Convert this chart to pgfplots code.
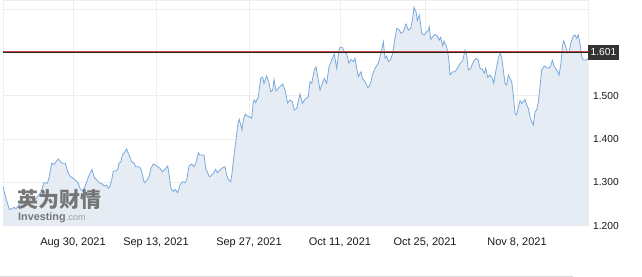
\documentclass[border=0pt]{standalone}
\usepackage{pgfplots}
\usepackage{pgfplotstable}
\pgfplotsset{compat=1.18}
\usepackage{fontspec}
\setmainfont{Liberation Sans}
\newfontfamily\cjk{Noto Sans CJK SC}
\definecolor{linec}{RGB}{122,170,220}
\definecolor{areac}{RGB}{229,236,243}
\definecolor{gridc}{RGB}{238,238,238}
\definecolor{boxc}{RGB}{51,51,51}
\definecolor{redl}{RGB}{200,70,60}
\definecolor{wm}{RGB}{105,105,105}

\pgfplotstableread{
t price
3 1.2893
6 1.2632
9.3 1.2378
11.7 1.2392
14 1.2424
16 1.2392
18.3 1.2454
20.7 1.2531
22.7 1.2501
25 1.2563
28.3 1.2577
31.7 1.2632
35 1.2593
37.3 1.2669
40.7 1.2762
44 1.2993
47.3 1.2979
49.3 1.3131
51.7 1.3441
54 1.3417
56 1.3478
58.3 1.3540
60 1.3494
62 1.3441
65.3 1.3441
68.3 1.3210
70.7 1.3131
73.3 1.3094
76 1.3039
78.3 1.2979
80 1.2863
82.7 1.2801
85 1.2900
87.3 1.3055
90 1.3210
92 1.3297
94 1.3131
96.7 1.3055
99.3 1.2993
102.3 1.2963
104.3 1.2916
106.7 1.2939
108.3 1.2863
110 1.2916
111.7 1.3055
113.3 1.3263
115.7 1.3263
117.7 1.3302
119 1.3441
121 1.3478
122.3 1.3632
124.3 1.3685
126.7 1.3771
128.3 1.3672
130 1.3579
131.7 1.3478
134.3 1.3441
135.7 1.3362
138.3 1.3362
140 1.3348
141.7 1.3247
144.3 1.2993
146.7 1.3039
149 1.3131
151 1.3325
153.3 1.3424
155.7 1.3401
157.7 1.3362
160 1.3325
162.3 1.3247
165 1.3302
167.7 1.3378
169 1.3193
171 1.2863
173.3 1.2785
175 1.2840
177.7 1.2762
180 1.2939
182.3 1.3016
185 1.2993
186.7 1.3055
189 1.3378
191.7 1.3424
194 1.3362
196 1.3454
198.3 1.3685
200 1.3632
204 1.3632
206 1.3286
207.3 1.3247
209.3 1.3131
210.7 1.3147
213.3 1.3210
215.7 1.3302
217.3 1.3224
220 1.3286
222.7 1.3339
225 1.3362
226.7 1.3170
228.3 1.3071
230.7 1.3016
232 1.3210
234 1.3632
236 1.3979
237.7 1.4325
239.3 1.4457
240.7 1.4325
242 1.4210
243.3 1.4441
245.3 1.4579
247.3 1.4533
249.3 1.4517
251.7 1.4480
253.3 1.4863
254.3 1.4903
255.7 1.4840
258.3 1.4979
260.7 1.5404
262.7 1.5427
264 1.5288
266.7 1.5457
268.7 1.5325
270.7 1.5094
272.7 1.5133
274 1.5381
276 1.5117
278.3 1.5173
280.7 1.5226
282.7 1.5272
285 1.5133
287.7 1.4833
290 1.4903
292.3 1.4863
294.3 1.4672
296.7 1.4711
300 1.5041
302.3 1.4826
305 1.4919
308.3 1.4979
310 1.5325
311.7 1.5288
314.3 1.5595
316 1.5672
318.3 1.5364
320 1.5133
321.7 1.5249
324.3 1.5404
326.7 1.5288
329 1.5672
331.7 1.5826
334.3 1.5965
336.7 1.5635
339 1.6057
340 1.6120
342.3 1.6120
344.3 1.6018
346.7 1.5965
349 1.5750
351 1.5842
353.3 1.5787
355 1.5866
356.7 1.5635
358.3 1.5441
361 1.5556
362.3 1.5404
365 1.5325
367.7 1.5196
369 1.5210
371 1.5325
372.3 1.5480
375 1.5635
378.3 1.5750
381 1.5981
383.3 1.6249
385 1.5866
386.7 1.5919
388.3 1.5787
390.7 1.5842
392.7 1.5981
395 1.6328
396.7 1.6558
399.3 1.6519
401 1.6443
403.3 1.6480
406 1.6658
408.3 1.6519
410.7 1.6558
412.7 1.6789
414 1.7043
416 1.6942
417.3 1.6734
419.3 1.6866
420.7 1.6635
421.7 1.6443
424 1.6404
426.7 1.6480
428.3 1.6503
429.3 1.6595
430.7 1.6304
432.7 1.6364
435 1.6420
437.3 1.6381
439.3 1.6288
440.7 1.6351
442.7 1.6150
444 1.6265
446 1.6173
447.7 1.6018
449 1.5787
450 1.5480
452.7 1.5556
455 1.5556
457.3 1.5635
460 1.5750
462.7 1.5810
465 1.6057
466.7 1.5942
468.3 1.5595
470.7 1.5635
473.3 1.5787
476 1.5866
478.3 1.5826
480 1.5635
482.3 1.5612
484.3 1.5519
485.7 1.5635
487.7 1.5427
490 1.5480
492.3 1.5404
493.7 1.5288
495.7 1.5556
498.3 1.5866
500 1.5981
501.7 1.5903
503.3 1.5595
505 1.5288
506.7 1.5249
508.3 1.5480
510 1.5404
511.7 1.5325
513.3 1.5018
515 1.4595
516.7 1.4556
518.3 1.4734
520 1.4886
521.7 1.4826
523.3 1.4863
525 1.4919
526.7 1.4787
528.3 1.4711
530 1.4517
531.7 1.4401
533.3 1.4325
535 1.4632
536.7 1.4672
538.3 1.4863
540 1.5210
541.7 1.5595
544.3 1.5688
546.7 1.5649
549 1.5635
551 1.5711
552.3 1.5826
554.3 1.5672
556.7 1.5595
559 1.5480
561 1.5750
562.3 1.6134
563.7 1.6272
565.7 1.6134
567.7 1.5995
569 1.6018
571 1.6226
573.3 1.6381
575 1.6404
576.7 1.6328
578.3 1.6404
580 1.6212
581.7 1.5903
583.3 1.5826
585.7 1.5826
588 1.5849
}\pricedata

\begin{document}
\begin{tikzpicture}
\useasboundingbox (0,0) rectangle (642bp,277bp);
\begin{axis}[
  at={(3bp,51.3bp)}, anchor=south west,
  scale only axis, width=585bp, height=225.7bp,
  xmin=3, xmax=588, ymin=1.2, ymax=1.7212,
  axis line style={draw=gridc},
  major tick length=0pt,
  xtick={73,156,249,340,425,517},
  xticklabels={{Aug 30, 2021},{Sep 13, 2021},{Sep 27, 2021},{Oct 11, 2021},{Oct 25, 2021},{Nov 8, 2021}},
  xticklabel style={font=\fontsize{11bp}{13bp}\selectfont, anchor=base, inner sep=0pt, yshift=-20bp, text=black!90},
  ytick={1.2,1.3,1.4,1.5,1.6,1.7},
  yticklabels={1.200,1.300,1.400,1.500,,},
  yticklabel pos=right,
  yticklabel style={font=\fontsize{10.2bp}{12bp}\selectfont, anchor=west, inner sep=0pt, xshift=5bp, text=black!90},
  grid=major,
  major grid style={draw=gridc, line width=0.6bp},
  clip=false,
]
\addplot[fill=areac, draw=none] table[x=t, y=price] {\pricedata} \closedcycle;
\addplot[draw=linec, line width=0.8bp, mark=none] table[x=t, y=price] {\pricedata};
\draw[black!85, line width=1.2bp] (axis cs:3,1.6004) -- (axis cs:588,1.6004);
\draw[redl, line width=0.6bp] ([yshift=0.8bp]axis cs:3,1.6004) -- ([yshift=0.8bp]axis cs:588,1.6004);
\node[fill=boxc, text=white, anchor=west, inner xsep=2.5bp, inner ysep=0pt, minimum height=15.5bp, font=\fontsize{10.2bp}{12bp}\selectfont] at (axis cs:588,1.6004) {1.601};
\end{axis}
\node[anchor=base west, inner sep=0pt, text=wm, opacity=0.9, font=\cjk\fontsize{21bp}{24bp}\selectfont\bfseries] at (17bp,69.5bp) {英为财情};
\node[anchor=base west, inner sep=0pt, text=wm, opacity=0.9, font=\fontsize{10.8bp}{12bp}\selectfont\bfseries] (inv) at (18bp,56bp) {Investing};
\node[anchor=base west, inner sep=0pt, text=wm!70, opacity=0.9, font=\fontsize{9bp}{11bp}\selectfont] at (inv.base east) {.com};
\draw[black!15, line width=0.8bp] (0,0.6bp) -- (573bp,0.6bp);
\end{tikzpicture}
\end{document}
